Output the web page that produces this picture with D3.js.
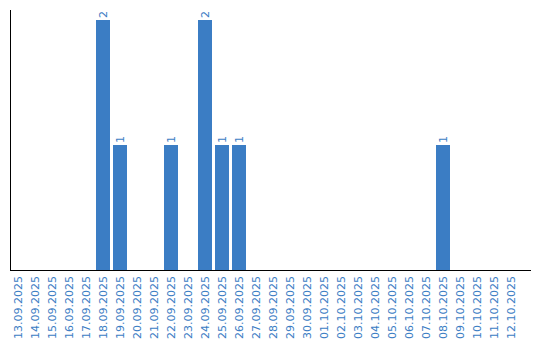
<!DOCTYPE html>
<html>
<head>
<meta charset="utf-8">
<script src="https://cdn.jsdelivr.net/npm/d3@7"></script>
<style>
  body { margin: 0; background: #fff; }
  text { font-family: "DejaVu Sans", sans-serif; }
</style>
</head>
<body>
<svg width="540" height="340"></svg>
<script>
// Data
var dates = ["13.09.2025","14.09.2025","15.09.2025","16.09.2025","17.09.2025","18.09.2025",
  "19.09.2025","20.09.2025","21.09.2025","22.09.2025","23.09.2025","24.09.2025",
  "25.09.2025","26.09.2025","27.09.2025","28.09.2025","29.09.2025","30.09.2025",
  "01.10.2025","02.10.2025","03.10.2025","04.10.2025","05.10.2025","06.10.2025",
  "07.10.2025","08.10.2025","09.10.2025","10.10.2025","11.10.2025","12.10.2025"];
var counts = [0,0,0,0,0,2, 1,0,0,1,0,2, 1,1,0,0,0,0, 0,0,0,0,0,0, 0,1,0,0,0,0];

var svg = d3.select("svg"),
  width = +svg.attr("width"),
  height = +svg.attr("height");

var color = "#3b7dc4";
var left = 11, bottom = 270;

var x = d3.scaleBand()
  .domain(dates)
  .range([left, left + 17 * dates.length])
  .paddingInner(3 / 17)
  .paddingOuter(1.5 / 17)
  .align(0);

var y = d3.scaleLinear()
  .domain([0, 2])
  .range([bottom, 20]);

// bars
svg.append("g")
  .selectAll("rect")
  .data(counts)
  .enter()
  .append("rect")
    .attr("x", function(d, i) { return x(dates[i]); })
    .attr("y", function(d) { return y(d); })
    .attr("width", x.bandwidth())
    .attr("height", function(d) { return bottom - y(d); })
    .attr("fill", color);

// value labels
svg.append("g")
  .selectAll("text")
  .data(counts.map(function(d, i) { return {v: d, date: dates[i]}; }).filter(function(d) { return d.v > 0; }))
  .enter()
  .append("text")
    .attr("transform", function(d) {
      return "translate(" + (x(d.date) + x.bandwidth() / 2) + "," + (y(d.v) - 2) + ") rotate(-90)";
    })
    .attr("dy", "0.35em")
    .attr("font-size", 11)
    .attr("fill", color)
    .text(function(d) { return d.v; });

// x labels
var xAxis = svg.append("g")
  .attr("transform", "translate(0," + bottom + ")")
  .call(d3.axisBottom(x).tickSize(0).tickSizeOuter(0));
xAxis.select(".domain").remove();
xAxis.selectAll("text")
  .attr("font-family", "DejaVu Sans, sans-serif")
  .attr("font-size", 11)
  .attr("fill", color)
  .attr("text-anchor", "end")
  .attr("transform", "rotate(-90)")
  .attr("x", -6)
  .attr("y", 0)
  .attr("dy", "0.35em");

// axis lines
svg.append("line")
  .attr("x1", left).attr("x2", width - 9)
  .attr("y1", bottom + 0.5).attr("y2", bottom + 0.5)
  .attr("stroke", "#000");
svg.append("line")
  .attr("x1", left - 0.5).attr("x2", left - 0.5)
  .attr("y1", 10).attr("y2", bottom + 1)
  .attr("stroke", "#000");
</script>
</body>
</html>
